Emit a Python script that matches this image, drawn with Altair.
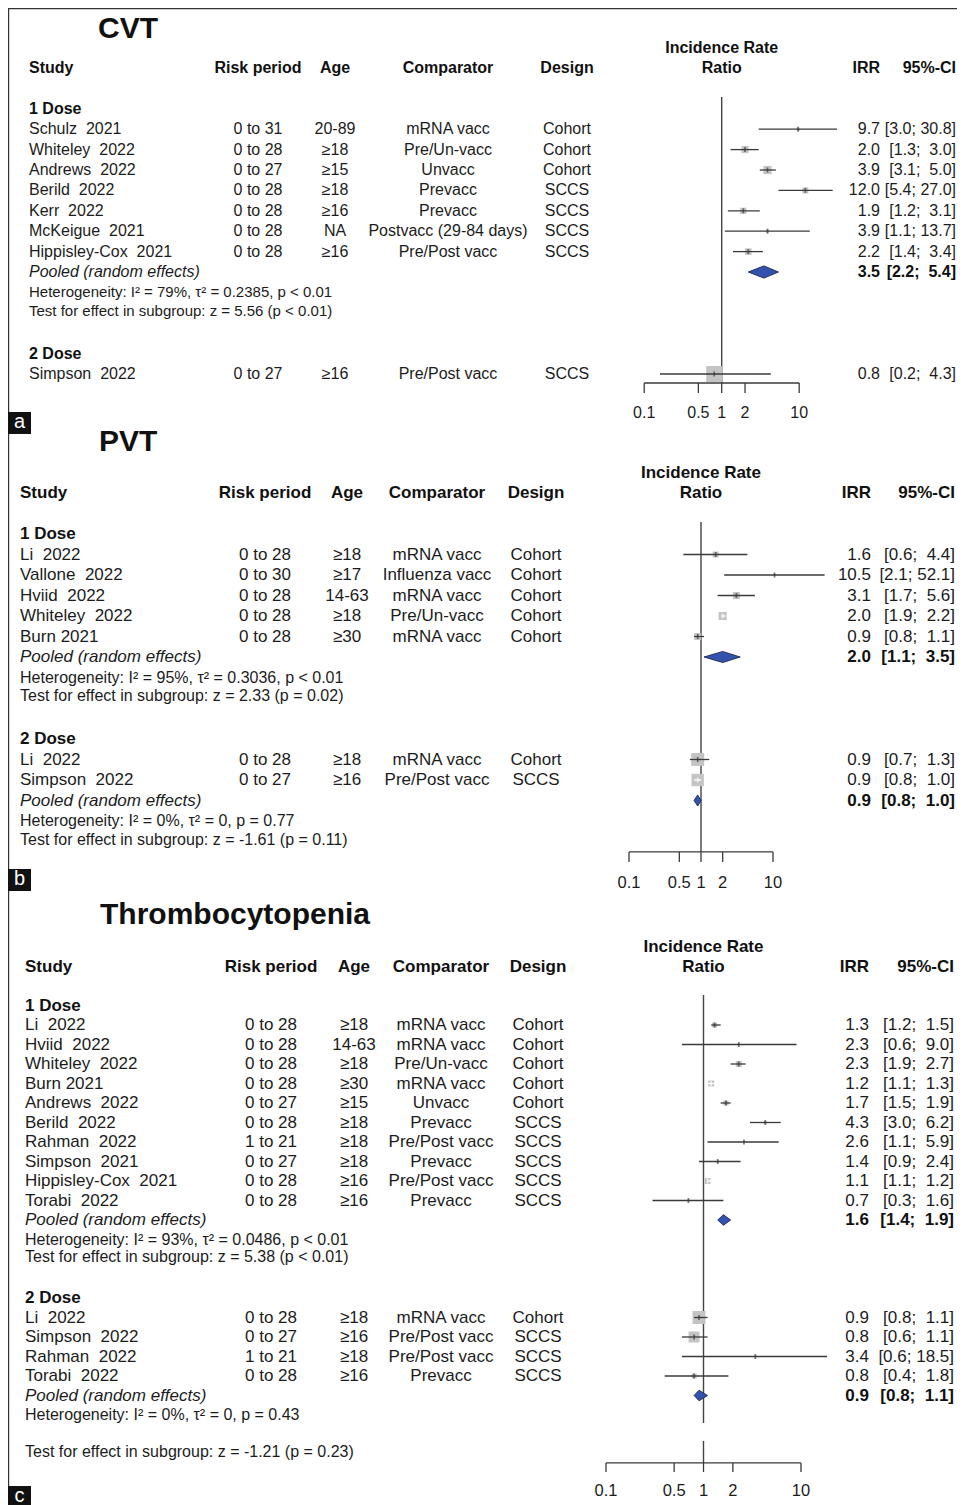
import math
import altair as alt
import pandas as pd

FONT = "Liberation Sans"
TXT = "#1c1c1c"
HDR = "#111111"
LINE = "#3a3a3a"
SQ = "#c4c4c4"
DIAM = "#3253ad"
DIAM_EDGE = "#1b2750"
W, H = 949, 1497

TICKS = [0.1, 0.5, 1, 2, 10]
TICK_LABELS = ["0.1", "0.5", "1", "2", "10"]

# ---------------- CVT ----------------
cvt_d1_study = ["Schulz  2021", "Whiteley  2022", "Andrews  2022", "Berild  2022", "Kerr  2022", "McKeigue  2021", "Hippisley-Cox  2021"]
cvt_d1_risk = ["0 to 31", "0 to 28", "0 to 27", "0 to 28", "0 to 28", "0 to 28", "0 to 28"]
cvt_d1_age = ["20-89", "≥18", "≥15", "≥18", "≥16", "NA", "≥16"]
cvt_d1_comp = ["mRNA vacc", "Pre/Un-vacc", "Unvacc", "Prevacc", "Prevacc", "Postvacc (29-84 days)", "Pre/Post vacc"]
cvt_d1_design = ["Cohort", "Cohort", "Cohort", "SCCS", "SCCS", "SCCS", "SCCS"]
cvt_d1_irr = [9.7, 2.0, 3.9, 12.0, 1.9, 3.9, 2.2]
cvt_d1_lo = [3.0, 1.3, 3.1, 5.4, 1.2, 1.1, 1.4]
cvt_d1_hi = [30.8, 3.0, 5.0, 27.0, 3.1, 13.7, 3.4]
cvt_d1_weight = [4, 20, 26, 14, 15, 4, 17]
cvt_d1_pooled = [3.5, 2.2, 5.4]
cvt_d1_het = "Heterogeneity: I² = 79%, τ² = 0.2385, p < 0.01"
cvt_d1_test = "Test for effect in subgroup: z = 5.56 (p < 0.01)"

cvt_d2_study = ["Simpson  2022"]
cvt_d2_risk = ["0 to 27"]
cvt_d2_age = ["≥16"]
cvt_d2_comp = ["Pre/Post vacc"]
cvt_d2_design = ["SCCS"]
cvt_d2_irr = [0.8]
cvt_d2_lo = [0.16]
cvt_d2_hi = [4.3]
cvt_d2_weight = [100]

# ---------------- PVT ----------------
pvt_d1_study = ["Li  2022", "Vallone  2022", "Hviid  2022", "Whiteley  2022", "Burn 2021"]
pvt_d1_risk = ["0 to 28", "0 to 30", "0 to 28", "0 to 28", "0 to 28"]
pvt_d1_age = ["≥18", "≥17", "14-63", "≥18", "≥30"]
pvt_d1_comp = ["mRNA vacc", "Influenza vacc", "mRNA vacc", "Pre/Un-vacc", "mRNA vacc"]
pvt_d1_design = ["Cohort", "Cohort", "Cohort", "Cohort", "Cohort"]
pvt_d1_irr = [1.6, 10.5, 3.1, 2.0, 0.9]
pvt_d1_lo = [0.57, 2.1, 1.7, 1.9, 0.8]
pvt_d1_hi = [4.4, 52.1, 5.6, 2.2, 1.1]
pvt_d1_weight = [11, 1.5, 15, 20, 15]
pvt_d1_pooled = [2.0, 1.1, 3.5]
pvt_d1_het = "Heterogeneity: I² = 95%, τ² = 0.3036, p < 0.01"
pvt_d1_test = "Test for effect in subgroup: z = 2.33 (p = 0.02)"

pvt_d2_study = ["Li  2022", "Simpson  2022"]
pvt_d2_risk = ["0 to 28", "0 to 27"]
pvt_d2_age = ["≥18", "≥16"]
pvt_d2_comp = ["mRNA vacc", "Pre/Post vacc"]
pvt_d2_design = ["Cohort", "SCCS"]
pvt_d2_irr = [0.9, 0.9]
pvt_d2_lo = [0.7, 0.8]
pvt_d2_hi = [1.3, 1.0]
pvt_d2_weight = [52, 47]
pvt_d2_pooled = [0.9, 0.8, 1.0]
pvt_d2_het = "Heterogeneity: I² = 0%, τ² = 0, p = 0.77"
pvt_d2_test = "Test for effect in subgroup: z = -1.61 (p = 0.11)"

# ---------------- Thrombocytopenia ----------------
thr_d1_study = ["Li  2022", "Hviid  2022", "Whiteley  2022", "Burn 2021", "Andrews  2022", "Berild  2022",
                "Rahman  2022", "Simpson  2021", "Hippisley-Cox  2021", "Torabi  2022"]
thr_d1_risk = ["0 to 28", "0 to 28", "0 to 28", "0 to 28", "0 to 27", "0 to 28", "1 to 21", "0 to 27", "0 to 28", "0 to 28"]
thr_d1_age = ["≥18", "14-63", "≥18", "≥30", "≥15", "≥18", "≥18", "≥18", "≥16", "≥16"]
thr_d1_comp = ["mRNA vacc", "mRNA vacc", "Pre/Un-vacc", "mRNA vacc", "Unvacc", "Prevacc", "Pre/Post vacc",
               "Prevacc", "Pre/Post vacc", "Prevacc"]
thr_d1_design = ["Cohort", "Cohort", "Cohort", "Cohort", "Cohort", "SCCS", "SCCS", "SCCS", "SCCS", "SCCS"]
thr_d1_irr = [1.3, 2.3, 2.3, 1.2, 1.7, 4.3, 2.6, 1.4, 1.1, 0.7]
thr_d1_lo = [1.2, 0.6, 1.9, 1.1, 1.5, 3.0, 1.1, 0.9, 1.1, 0.3]
thr_d1_hi = [1.5, 9.0, 2.7, 1.3, 1.9, 6.2, 5.9, 2.4, 1.2, 1.6]
thr_d1_weight = [8, 1.2, 11, 11, 8, 3, 1.2, 1.5, 11, 1.2]
thr_d1_pooled = [1.6, 1.4, 1.9]
thr_d1_het = "Heterogeneity: I² = 93%, τ² = 0.0486, p < 0.01"
thr_d1_test = "Test for effect in subgroup: z = 5.38 (p < 0.01)"

thr_d2_study = ["Li  2022", "Simpson  2022", "Rahman  2022", "Torabi  2022"]
thr_d2_risk = ["0 to 28", "0 to 27", "1 to 21", "0 to 28"]
thr_d2_age = ["≥18", "≥16", "≥18", "≥16"]
thr_d2_comp = ["mRNA vacc", "Pre/Post vacc", "Pre/Post vacc", "Prevacc"]
thr_d2_design = ["Cohort", "SCCS", "SCCS", "SCCS"]
thr_d2_irr = [0.9, 0.8, 3.4, 0.8]
thr_d2_lo = [0.8, 0.6, 0.6, 0.4]
thr_d2_hi = [1.1, 1.1, 18.5, 1.8]
thr_d2_weight = [52, 37, 0.5, 8]
thr_d2_pooled = [0.9, 0.8, 1.1]
thr_d2_het = "Heterogeneity: I² = 0%, τ² = 0, p = 0.43"
thr_d2_test = "Test for effect in subgroup: z = -1.21 (p = 0.23)"


def nb(s):
    return s.replace(" ", "\u00a0")


def group(label, study, risk, age, comp, design, irr, lo, hi, weight, pooled=None, het=None, test=None):
    return dict(label=label, study=study, risk=risk, age=age, comp=comp, design=design,
                irr=irr, lo=lo, hi=hi, weight=weight, pooled=pooled, het=het, test=test)


GROUPS_A = [
    group("1 Dose", cvt_d1_study, cvt_d1_risk, cvt_d1_age, cvt_d1_comp, cvt_d1_design, cvt_d1_irr,
          cvt_d1_lo, cvt_d1_hi, cvt_d1_weight, cvt_d1_pooled, cvt_d1_het, cvt_d1_test),
    group("2 Dose", cvt_d2_study, cvt_d2_risk, cvt_d2_age, cvt_d2_comp, cvt_d2_design, cvt_d2_irr,
          cvt_d2_lo, cvt_d2_hi, cvt_d2_weight),
]
GROUPS_B = [
    group("1 Dose", pvt_d1_study, pvt_d1_risk, pvt_d1_age, pvt_d1_comp, pvt_d1_design, pvt_d1_irr,
          pvt_d1_lo, pvt_d1_hi, pvt_d1_weight, pvt_d1_pooled, pvt_d1_het, pvt_d1_test),
    group("2 Dose", pvt_d2_study, pvt_d2_risk, pvt_d2_age, pvt_d2_comp, pvt_d2_design, pvt_d2_irr,
          pvt_d2_lo, pvt_d2_hi, pvt_d2_weight, pvt_d2_pooled, pvt_d2_het, pvt_d2_test),
]
GROUPS_C = [
    group("1 Dose", thr_d1_study, thr_d1_risk, thr_d1_age, thr_d1_comp, thr_d1_design, thr_d1_irr,
          thr_d1_lo, thr_d1_hi, thr_d1_weight, thr_d1_pooled, thr_d1_het, thr_d1_test),
    group("2 Dose", thr_d2_study, thr_d2_risk, thr_d2_age, thr_d2_comp, thr_d2_design, thr_d2_irr,
          thr_d2_lo, thr_d2_hi, thr_d2_weight, thr_d2_pooled, thr_d2_het, thr_d2_test),
]

LAYOUT_A = dict(title="CVT", y0=60, rh=20.4, x01=636.2, x10=791.2, side_max=16,
                fs=16, fs_het=15, fs_title=30, fs_axis=16,
                col=dict(study=21, risk=250, age=327, comp=440, design=559, forest=713.7, irr=872, ci=948, title=90),
                starts=[2, 14], test_gap=[0.9, 0.9], title_row=-1.91,
                ref=[(1.42, 15.44)], axis_row=15.44, tick_px=10, label_row=16.91, dh=0.3)
LAYOUT_B = dict(title="PVT", y0=485, rh=20.5, x01=621, x10=765, side_max=18,
                fs=17, fs_het=16, fs_title=30, fs_axis=16.5,
                col=dict(study=12, risk=257, age=339, comp=429, design=528, forest=693, irr=863, ci=947, title=91),
                starts=[2, 12], test_gap=[0.9, 0.93], title_row=-2.49,
                ref=[(1.41, 17.51)], axis_row=17.51, tick_px=10, label_row=19.02, dh=0.27)
LAYOUT_C = dict(title="Thrombocytopenia", y0=958.5, rh=19.5, x01=598, x10=793, side_max=18,
                fs=17, fs_het=16, fs_title=30, fs_axis=16.5,
                col=dict(study=17, risk=263, age=346, comp=433, design=530, forest=695.5, irr=861, ci=946, title=92),
                starts=[2, 17], test_gap=[0.9, 1.9], title_row=-2.64,
                ref=[(1.46, 23.41), (24.33, 25.46)], axis_row=25.46, tick_px=9, label_row=26.9, dh=0.27)


def build_panel(L, groups):
    ys = alt.Scale(domain=[0, 10], range=[L["y0"], L["y0"] + 10 * L["rh"]], nice=False, zero=False)
    xs = alt.Scale(type="log", domain=[0.1, 10], range=[L["x01"], L["x10"]], nice=False)

    def Y(f):
        return alt.Y(f"{f}:Q", scale=ys, axis=None)

    def X(f):
        return alt.X(f"{f}:Q", scale=xs, axis=None)

    ppd = (L["x10"] - L["x01"]) / 2.0
    c = L["col"]
    study_rows, pooled_rows, glabels, notes = [], [], [], []
    for g, start, gap in zip(groups, L["starts"], L["test_gap"]):
        glabels.append({"row": start, "t": g["label"]})
        n = len(g["study"])
        for i in range(n):
            irr, lo, hi, w = g["irr"][i], g["lo"][i], g["hi"][i], g["weight"][i]
            half = L["side_max"] * math.sqrt(w / 100.0) / 2 + 1.5
            inside = (math.log10(hi / irr) * ppd <= half) and (math.log10(irr / lo) * ppd <= half)
            study_rows.append(dict(row=start + 1 + i, study=nb(g["study"][i]), risk=g["risk"][i],
                                   age=g["age"][i], comp=g["comp"][i], design=g["design"][i],
                                   irr=irr, lo=lo, hi=hi, weight=w, irr_t=f"{irr:.1f}",
                                   ci_t=nb(f"[{lo:.1f}; {hi:4.1f}]"), inside=bool(inside)))
        if g["pooled"]:
            est, lo, hi = g["pooled"]
            r = start + n + 1
            pooled_rows.append(dict(row=r, t="Pooled (random effects)", est=est, lo=lo, hi=hi,
                                    irr_t=f"{est:.1f}", ci_t=nb(f"[{lo:.1f}; {hi:4.1f}]")))
            notes.append(dict(row=r + 1, t=g["het"]))
            notes.append(dict(row=r + 1 + gap, t=g["test"]))

    sdf = pd.DataFrame(study_rows)
    pdf = pd.DataFrame(pooled_rows)
    gdf = pd.DataFrame(glabels)
    ndf = pd.DataFrame(notes)
    diam = []
    for k, p in enumerate(pooled_rows):
        r = p["row"]
        diam += [dict(id=k, x=p["lo"], y=r, y2=r),
                 dict(id=k, x=p["est"], y=r - L["dh"], y2=r + L["dh"]),
                 dict(id=k, x=p["hi"], y=r, y2=r)]
    ddf = pd.DataFrame(diam)

    layers = []
    ref_df = pd.DataFrame([dict(v=1.0, r1=a, r2=b) for a, b in L["ref"]])
    layers.append(alt.Chart(ref_df).mark_rule(color="#444444", strokeWidth=1.4).encode(
        x=X("v"), y=Y("r1"), y2=alt.Y2("r2:Q")))
    layers.append(alt.Chart(sdf).mark_square(color=SQ, opacity=1, strokeWidth=0).encode(
        x=X("irr"), y=Y("row"),
        size=alt.Size("weight:Q", scale=alt.Scale(domain=[0, 100], range=[0, L["side_max"] ** 2]), legend=None)))
    for flt, col in (("!datum.inside", LINE), ("datum.inside", "white")):
        base = alt.Chart(sdf).transform_filter(flt)
        layers.append(base.mark_rule(color=col, strokeWidth=1.3).encode(x=X("lo"), x2=alt.X2("hi:Q"), y=Y("row")))
        layers.append(base.mark_tick(color=col, orient="vertical", size=5, thickness=1.7).encode(x=X("irr"), y=Y("row")))
    if len(ddf):
        layers.append(alt.Chart(ddf).mark_area(fill=DIAM, stroke=DIAM_EDGE, strokeWidth=0.9, opacity=1).encode(
            x=X("x"), y=Y("y"), y2=alt.Y2("y2:Q"), detail="id:N"))
    ax_df = pd.DataFrame(dict(a=[0.1], b=[10.0], r=[L["axis_row"]]))
    layers.append(alt.Chart(ax_df).mark_rule(color=LINE, strokeWidth=1.3).encode(
        x=X("a"), x2=alt.X2("b:Q"), y=Y("r")))
    tk = pd.DataFrame(dict(v=TICKS, lab=TICK_LABELS))
    tk["r"] = L["axis_row"]
    tk["r2"] = L["axis_row"] + L["tick_px"] / L["rh"]
    tk["lr"] = L["label_row"]
    layers.append(alt.Chart(tk).mark_rule(color=LINE, strokeWidth=1.3).encode(x=X("v"), y=Y("r"), y2=alt.Y2("r2:Q")))
    layers.append(alt.Chart(tk).mark_text(font=FONT, fontSize=L["fs_axis"], color=TXT, baseline="middle").encode(
        x=X("v"), y=Y("lr"), text="lab:N"))

    def fixed(text, row, x, align, size, weight="bold", style="normal", color=HDR):
        return alt.Chart(pd.DataFrame({"row": [row]})).mark_text(
            text=text, align=align, baseline="middle", font=FONT, fontSize=size,
            fontWeight=weight, fontStyle=style, color=color).encode(x=alt.value(x), y=Y("row"))

    def col_text(df, field, x, align, size, weight="normal", style="normal", color=TXT):
        return alt.Chart(df).mark_text(align=align, baseline="middle", font=FONT, fontSize=size,
                                       fontWeight=weight, fontStyle=style, color=color).encode(
            x=alt.value(x), y=Y("row"), text=f"{field}:N")

    fs = L["fs"]
    layers.append(fixed(L["title"], L["title_row"], c["title"], "left", L["fs_title"]))
    layers.append(fixed("Study", 0, c["study"], "left", fs))
    layers.append(fixed("Risk period", 0, c["risk"], "center", fs))
    layers.append(fixed("Age", 0, c["age"], "center", fs))
    layers.append(fixed("Comparator", 0, c["comp"], "center", fs))
    layers.append(fixed("Design", 0, c["design"], "center", fs))
    layers.append(fixed("Incidence Rate", -1, c["forest"], "center", fs))
    layers.append(fixed("Ratio", 0, c["forest"], "center", fs))
    layers.append(fixed("IRR", 0, c["irr"], "right", fs))
    layers.append(fixed("95%-CI", 0, c["ci"], "right", fs))

    layers.append(col_text(gdf, "t", c["study"], "left", fs, weight="bold", color=HDR))
    layers.append(col_text(sdf, "study", c["study"], "left", fs))
    layers.append(col_text(sdf, "risk", c["risk"], "center", fs))
    layers.append(col_text(sdf, "age", c["age"], "center", fs))
    layers.append(col_text(sdf, "comp", c["comp"], "center", fs))
    layers.append(col_text(sdf, "design", c["design"], "center", fs))
    layers.append(col_text(sdf, "irr_t", c["irr"], "right", fs))
    layers.append(col_text(sdf, "ci_t", c["ci"], "right", fs))
    if len(pdf):
        layers.append(col_text(pdf, "t", c["study"], "left", fs, style="italic"))
        layers.append(col_text(pdf, "irr_t", c["irr"], "right", fs, weight="bold", color=HDR))
        layers.append(col_text(pdf, "ci_t", c["ci"], "right", fs, weight="bold", color=HDR))
        layers.append(col_text(ndf, "t", c["study"], "left", L["fs_het"]))
    return alt.layer(*layers)


panel_a = build_panel(LAYOUT_A, GROUPS_A)
panel_b = build_panel(LAYOUT_B, GROUPS_B)
panel_c = build_panel(LAYOUT_C, GROUPS_C)

one = pd.DataFrame({"k": [0]})
deco = [
    alt.Chart(one).mark_rule(color="#333333", strokeWidth=1.2).encode(
        x=alt.value(0.6), y=alt.value(0), y2=alt.value(H)),
    alt.Chart(one).mark_rule(color="#333333", strokeWidth=1.2).encode(
        x=alt.value(0), x2=alt.value(W), y=alt.value(0.6)),
]
for letter, ytop, ybot in (("a", 404, 426), ("b", 861, 883), ("c", 1478, 1500)):
    deco.append(alt.Chart(one).mark_rect(color="#111111").encode(
        x=alt.value(0), x2=alt.value(23), y=alt.value(ytop), y2=alt.value(ybot)))
    deco.append(alt.Chart(one).mark_text(text=letter, font=FONT, fontSize=20, color="white",
                                         align="center", baseline="middle").encode(
        x=alt.value(11.5), y=alt.value((ytop + ybot) / 2 - 1)))

chart = alt.layer(panel_a, panel_b, panel_c, *deco).resolve_scale(
    x="independent", y="independent", size="independent"
).properties(
    width=W, height=H, padding=0, autosize=alt.AutoSizeParams(type="none"),
    background="white"
).configure_view(stroke=None)

chart.save("out.html", embed_options={"renderer": "svg", "actions": False})
